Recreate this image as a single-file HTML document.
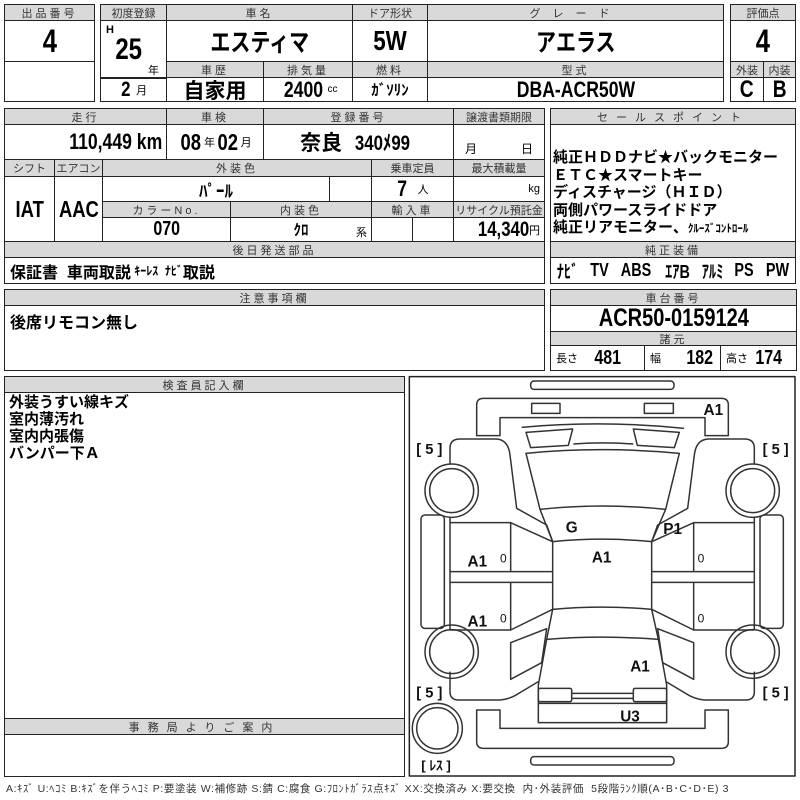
<!DOCTYPE html>
<html><head><meta charset="utf-8"><style>
body{margin:0;width:800px;height:800px;background:#fff;position:relative;overflow:hidden;font-family:"Liberation Sans","Noto Sans CJK JP",sans-serif;}
.c{position:absolute;box-sizing:border-box;border:1.5px solid #222;display:flex;align-items:center;justify-content:center;white-space:nowrap;overflow:hidden;color:#000}
.h{background:#d9d9d9;font-size:11px;letter-spacing:3px;color:#333}
.v{font-weight:bold}
.n{font-weight:bold;display:inline-block;transform:scaleX(.8)}
.nr{font-weight:bold;display:inline-block;transform:scaleX(.8);transform-origin:right center}
.l{justify-content:flex-start;padding-left:5px}
.r{justify-content:flex-end;padding-right:4px}
</style></head><body>
<!-- top -->
<div class="c h" style="left:4px;top:4px;width:91px;height:17px">出品番号</div>
<div class="c" style="left:4px;top:20px;width:91px;height:42px;font-size:32px"><span class="n">4</span></div>
<div class="c" style="left:4px;top:61px;width:91px;height:41px"></div>

<div class="c h" style="left:100px;top:4px;width:67px;height:17px;letter-spacing:0">初度登録</div>
<div class="c h" style="left:166px;top:4px;width:187px;height:17px">車名</div>
<div class="c h" style="left:352px;top:4px;width:76px;height:17px;letter-spacing:0">ドア形状</div>
<div class="c h" style="left:427px;top:4px;width:297px;height:17px;letter-spacing:12px">グレード</div>
<div class="c" style="left:100px;top:20px;width:67px;height:59px"></div>
<div style="position:absolute;left:106px;top:24px;font-size:11px;font-weight:bold">H</div>
<div style="position:absolute;left:112px;top:33px;font-size:30px"><span class="n">25</span></div>
<div style="position:absolute;left:148px;top:62px;font-size:11px">年</div>
<div class="c" style="left:166px;top:20px;width:187px;height:42px;font-size:25px"><span class="n">エスティマ</span></div>
<div class="c" style="left:352px;top:20px;width:76px;height:42px;font-size:28px"><span class="n">5W</span></div>
<div class="c" style="left:427px;top:20px;width:297px;height:42px;font-size:25px"><span class="n">アエラス</span></div>
<div class="c h" style="left:166px;top:61px;width:98px;height:17px">車歴</div>
<div class="c h" style="left:263px;top:61px;width:90px;height:17px">排気量</div>
<div class="c h" style="left:352px;top:61px;width:76px;height:17px">燃料</div>
<div class="c h" style="left:427px;top:61px;width:297px;height:17px">型式</div>
<div class="c" style="left:100px;top:77px;width:67px;height:25px"><span class="n" style="font-size:21px">2</span>&nbsp;<span style="font-size:11px">月</span></div>
<div class="c v" style="left:166px;top:77px;width:98px;height:25px;font-size:21px">自家用</div>
<div class="c" style="left:263px;top:77px;width:90px;height:25px"><span class="n" style="font-size:22px">2400</span><span style="font-size:10px">cc</span></div>
<div class="c v" style="left:352px;top:77px;width:76px;height:25px;font-size:15px">ｶﾞｿﾘﾝ</div>
<div class="c" style="left:427px;top:77px;width:297px;height:25px;font-size:22px"><span class="n">DBA-ACR50W</span></div>

<div class="c h" style="left:730px;top:4px;width:66px;height:17px;letter-spacing:0">評価点</div>
<div class="c" style="left:730px;top:20px;width:66px;height:42px;font-size:32px"><span class="n">4</span></div>
<div class="c h" style="left:730px;top:61px;width:34px;height:17px;letter-spacing:0">外装</div>
<div class="c h" style="left:763px;top:61px;width:33px;height:17px;letter-spacing:0">内装</div>
<div class="c" style="left:730px;top:77px;width:34px;height:25px;font-size:24px"><span class="n">C</span></div>
<div class="c" style="left:763px;top:77px;width:33px;height:25px;font-size:24px"><span class="n">B</span></div>

<!-- second -->
<div class="c h" style="left:4px;top:108px;width:163px;height:17px">走行</div>
<div class="c h" style="left:166px;top:108px;width:98px;height:17px">車検</div>
<div class="c h" style="left:263px;top:108px;width:191px;height:17px">登録番号</div>
<div class="c h" style="left:453px;top:108px;width:92px;height:17px;letter-spacing:0">譲渡書類期限</div>
<div class="c r" style="left:4px;top:124px;width:163px;height:36px"><span class="nr" style="font-size:22px">110,449 km</span></div>
<div class="c" style="left:166px;top:124px;width:98px;height:36px"><span class="n" style="font-size:23px">08</span><span style="font-size:11px">年</span><span class="n" style="font-size:23px">02</span><span style="font-size:11px">月</span></div>
<div class="c v" style="left:263px;top:124px;width:191px;height:36px;font-size:21px">奈良&nbsp;<span class="n">340ﾒ99</span></div>
<div class="c" style="left:453px;top:124px;width:92px;height:36px;font-size:12px;align-items:flex-end;padding-bottom:2px;justify-content:space-around">月<span></span>日</div>

<div class="c h" style="left:4px;top:159px;width:51px;height:18px;letter-spacing:0">シフト</div>
<div class="c h" style="left:54px;top:159px;width:49px;height:18px;letter-spacing:0">エアコン</div>
<div class="c h" style="left:102px;top:159px;width:270px;height:18px">外装色</div>
<div class="c h" style="left:371px;top:159px;width:83px;height:18px;letter-spacing:0">乗車定員</div>
<div class="c h" style="left:453px;top:159px;width:92px;height:18px;letter-spacing:0">最大積載量</div>
<div class="c" style="left:4px;top:176px;width:51px;height:66px;font-size:23px"><span class="n">IAT</span></div>
<div class="c" style="left:54px;top:176px;width:49px;height:66px;font-size:23px"><span class="n">AAC</span></div>
<div class="c v" style="left:102px;top:176px;width:228px;height:26px;font-size:17px">ﾊﾟｰﾙ</div>
<div class="c" style="left:329px;top:176px;width:43px;height:26px"></div>
<div class="c" style="left:371px;top:176px;width:83px;height:26px"><span class="n" style="font-size:22px">7</span>&nbsp;&nbsp;<span style="font-size:11px">人</span></div>
<div class="c r" style="left:453px;top:176px;width:92px;height:26px;font-size:11px">kg</div>
<div class="c h" style="left:102px;top:201px;width:129px;height:17px">カラーNo.</div>
<div class="c h" style="left:230px;top:201px;width:142px;height:17px">内装色</div>
<div class="c h" style="left:371px;top:201px;width:83px;height:17px">輸入車</div>
<div class="c h" style="left:453px;top:201px;width:92px;height:17px;letter-spacing:0">リサイクル預託金</div>
<div class="c" style="left:102px;top:217px;width:129px;height:25px;font-size:20px"><span class="n">070</span></div>
<div class="c" style="left:230px;top:217px;width:142px;height:25px"><span class="v" style="font-size:15px">ｸﾛ</span><span style="position:absolute;right:4px;bottom:1px;font-size:11px">系</span></div>
<div class="c" style="left:371px;top:217px;width:42px;height:25px"></div>
<div class="c" style="left:412px;top:217px;width:42px;height:25px"></div>
<div class="c r" style="left:453px;top:217px;width:92px;height:25px"><span class="nr" style="font-size:21px">14,340</span><span style="font-size:11px">円</span></div>
<div class="c h" style="left:4px;top:241px;width:541px;height:17px">後日発送部品</div>
<div class="c l v" style="left:4px;top:257px;width:541px;height:27px;font-size:16px">保証書&nbsp; 車両取説 <span style="font-size:12px">&nbsp;ｷｰﾚｽ&nbsp; ﾅﾋﾞ</span>取説</div>

<div class="c h" style="left:550px;top:108px;width:246px;height:17px;letter-spacing:8px">セールスポイント</div>
<div class="c" style="left:550px;top:124px;width:246px;height:118px;display:block;padding:24px 0 0 2px;font-size:15px;line-height:17.6px;font-weight:bold">純正ＨＤＤナビ★バックモニター<br>ＥＴＣ★スマートキー<br>ディスチャージ（ＨＩＤ）<br>両側パワースライドドア<br>純正リアモニター、<span style="font-size:11px">ｸﾙｰｽﾞｺﾝﾄﾛｰﾙ</span></div>
<div class="c h" style="left:550px;top:241px;width:246px;height:17px">純正装備</div>
<div class="c" style="left:550px;top:257px;width:246px;height:27px;font-size:18px;justify-content:space-around"><span class="n">ﾅﾋﾞ</span><span class="n">TV</span><span class="n">ABS</span><span class="n">ｴｱB</span><span class="n">ｱﾙﾐ</span><span class="n">PS</span><span class="n">PW</span></div>

<!-- third -->
<div class="c h" style="left:4px;top:289px;width:541px;height:17px">注意事項欄</div>
<div class="c l v" style="left:4px;top:305px;width:541px;height:66px;font-size:16px;align-items:flex-start;padding-top:3px">後席リモコン無し</div>
<div class="c h" style="left:550px;top:289px;width:247px;height:17px">車台番号</div>
<div class="c" style="left:550px;top:305px;width:247px;height:27px;font-size:25px"><span class="n">ACR50-0159124</span></div>
<div class="c h" style="left:550px;top:331px;width:247px;height:15px">諸元</div>
<div class="c l" style="left:550px;top:345px;width:95px;height:26px"><span style="font-size:11px">長さ</span>&nbsp;&nbsp;&nbsp;<span class="n" style="font-size:20px">481</span></div>
<div class="c l" style="left:644px;top:345px;width:77px;height:26px"><span style="font-size:11px">幅</span>&nbsp;&nbsp;&nbsp;&nbsp;&nbsp;<span class="n" style="font-size:20px">182</span></div>
<div class="c l" style="left:720px;top:345px;width:77px;height:26px"><span style="font-size:11px">高さ</span>&nbsp;<span class="n" style="font-size:20px">174</span></div>

<!-- bottom -->
<div class="c h" style="left:4px;top:376px;width:401px;height:17px">検査員記入欄</div>
<div class="c" style="left:4px;top:392px;width:401px;height:327px;display:block;padding:1px 0 0 4px;font-size:15px;line-height:17px;font-weight:bold">外装うすい線キズ<br>室内薄汚れ<br>室内内張傷<br>バンパー下Ａ</div>
<div class="c h" style="left:4px;top:718px;width:401px;height:17px;letter-spacing:8px">事務局よりご案内</div>
<div class="c" style="left:4px;top:734px;width:401px;height:43px"></div>
<div style="position:absolute;left:6px;top:781px;font-size:10.5px;letter-spacing:0.6px;color:#333;white-space:nowrap">A:ｷｽﾞ U:ﾍｺﾐ B:ｷｽﾞを伴うﾍｺﾐ P:要塗装 W:補修跡 S:錆 C:腐食 G:ﾌﾛﾝﾄｶﾞﾗｽ点ｷｽﾞ XX:交換済み X:要交換 &nbsp;内･外装評価 &nbsp;5段階ﾗﾝｸ順(A･B･C･D･E) 3</div>

<svg style="position:absolute;left:400px;top:370px" width="400" height="430" viewBox="0 0 1200 1290">
<g fill="none" stroke="#333" stroke-width="4.5" stroke-linejoin="round">
<rect x="28" y="20" width="1157" height="1198" stroke="#222"/>
<rect x="392" y="33" width="430" height="25" rx="10"/>
<rect x="392" y="1160" width="430" height="25" rx="10"/>
<path d="M230,197 L230,105 Q230,85 250,85 L965,85 Q985,85 985,105 L985,197 L915,197 L915,143 L300,143 L300,197 Z"/>
<path d="M230,1020 L300,1020 L300,1075 L915,1075 L915,1020 L985,1020 L985,1115 Q985,1135 965,1135 L250,1135 Q230,1135 230,1115 Z"/>
<rect x="395" y="100" width="85" height="30"/>
<rect x="733" y="100" width="87" height="30"/>
<path d="M365,172 Q606,150 852,175"/>
<path d="M378,187 L518,177 L505,226 L392,233 Z"/>
<path d="M700,177 L838,187 L823,233 L712,226 Z"/>
<path d="M520,222 Q606,215 700,222"/>
<path d="M378,250 Q606,228 838,250 L797,418 Q606,398 420,418 Z"/>
<path d="M420,418 L458,515 M797,418 L755,515"/>
<path d="M458,515 Q606,500 755,515 L755,718 Q606,705 458,718 Z"/>
<path d="M458,718 L440,808 Q606,795 775,808 L755,718"/>
<path d="M440,808 L415,945 L415,1058 L800,1058 L800,945 L775,808"/>
<rect x="415" y="955" width="100" height="40" rx="5"/>
<rect x="700" y="955" width="100" height="40" rx="5"/>
<path d="M515,970 L700,970 M515,985 L700,985 M415,1000 L800,1000"/>
<circle cx="112" cy="1075" r="75"/><circle cx="112" cy="1075" r="62"/>
<g id="side">
<circle cx="155" cy="362" r="80"/><circle cx="155" cy="362" r="66"/>
<circle cx="155" cy="845" r="80"/><circle cx="155" cy="845" r="66"/>
<rect x="63" y="435" width="70" height="340" rx="12"/>
<path d="M150,284 L150,235 Q150,207 180,207 L290,207 Q325,210 330,255 L350,415 L440,465 L458,515"/>
<path d="M150,440 L150,780 M150,458 L332,458 L458,515 M332,458 L332,605 M150,605 L458,605 M150,637 L458,637 M332,637 L332,780 M150,780 L332,780 L458,718"/>
<path d="M150,905 L150,965 Q150,990 175,990 L300,990 Q330,988 360,968 L415,935"/>
<path d="M332,818 L440,776 L425,878 L332,928 Z"/>
</g>
<use href="#side" transform="matrix(-1,0,0,1,1213,0)"/>
</g>
<g font-family="Liberation Sans, sans-serif" font-weight="bold" font-size="46" fill="#111" text-anchor="middle">
<text x="940" y="135">A1</text>
<text x="515" y="487">G</text>
<text x="818" y="492">P1</text>
<text x="605" y="577">A1</text>
<text x="232" y="590">A1</text>
<text x="232" y="770">A1</text>
<text x="720" y="905">A1</text>
<text x="690" y="1055">U3</text>
<g font-weight="normal" font-size="36"><text x="310" y="578">0</text><text x="310" y="758">0</text><text x="903" y="578">0</text><text x="903" y="758">0</text></g>
<g font-size="44" font-weight="bold"><text x="88" y="252">[ 5 ]</text><text x="1127" y="252">[ 5 ]</text><text x="88" y="983">[ 5 ]</text><text x="1127" y="983">[ 5 ]</text>
<text x="108" y="1200" font-size="40">[ ﾚｽ ]</text></g>
</g>
</svg>
</body></html>
